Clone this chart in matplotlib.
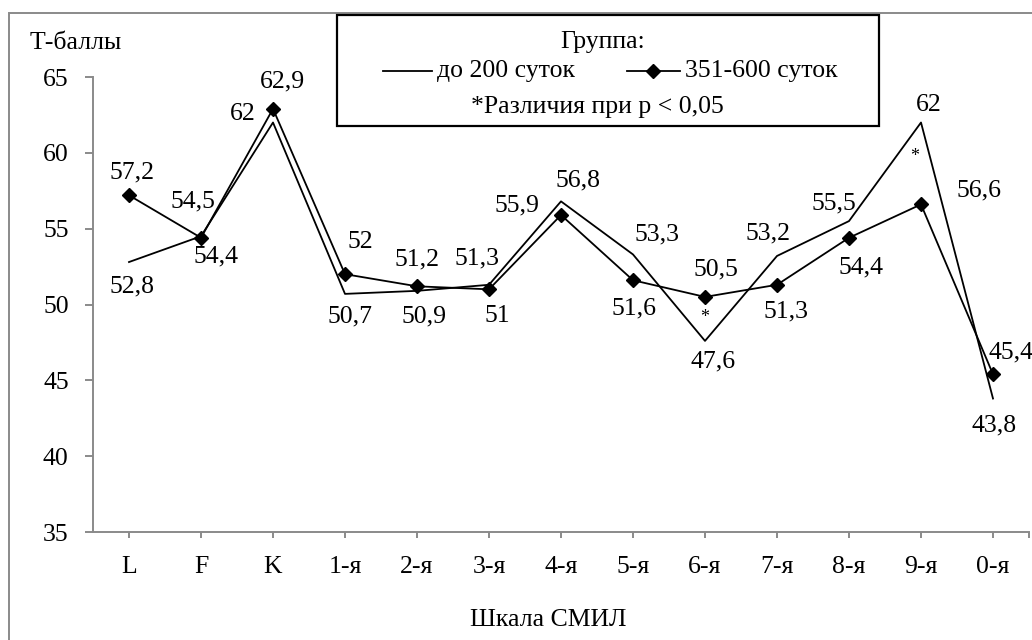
import numpy as np
import matplotlib
matplotlib.use("Agg")
import matplotlib.pyplot as plt
from matplotlib.lines import Line2D
from matplotlib.patches import Rectangle

plt.rcParams['font.family'] = ['Liberation Serif', 'DejaVu Serif']

# SMIL scales and mean T-scores of the two groups
scales = ['L', 'F', 'K', '1-я', '2-я', '3-я', '4-я', '5-я', '6-я', '7-я', '8-я', '9-я', '0-я']
grp_short = [52.8, 54.5, 62, 50.7, 50.9, 51.3, 56.8, 53.3, 47.6, 53.2, 55.5, 62, 43.8]
grp_long = [57.2, 54.4, 62.9, 52, 51.2, 51, 55.9, 51.6, 50.5, 51.3, 54.4, 56.6, 45.4]
name_short = 'до 200 суток'
name_long = '351-600 суток'
signif = ['6-я', '9-я']  # p < 0.05

# label offsets in pixels (dx, dy), dy measured downwards
off_short = [(3, 24), (-8, -35), (-30, -9), (5, 23), (7, 26), (-12, -26), (17, -21),
             (24, -20), (8, 21), (-9, -23), (-15, -18), (8, -18), (1, 27)]
off_long = [(3, -23), (15, 19), (9, -27), (15, -32), (0, -27), (8, 27), (-44, -10),
            (1, 28), (11, -27), (9, 27), (12, 30), (58, -14), (18, -22)]

W, H = 1032, 640
FS = 18.5
GREY = '#8a8a8a'


def fx(x):
    return x / W


def fy(y):
    return 1 - y / H


def fmt(v):
    return ('%g' % v).replace('.', ',')


fig = plt.figure(figsize=(W / 100, H / 100), dpi=100)
ax = fig.add_axes([fx(93), fy(532), fx(1029) - fx(93), fy(77) - fy(532)])
ax.patch.set_alpha(0)

x = np.arange(len(scales))
ax.plot(x, grp_short, color='black', lw=1.3)
ax.plot(x, grp_long, color='black', lw=1.3, marker='D', ms=7.5)

for i in range(len(scales)):
    dx, dy = off_short[i]
    ax.annotate(fmt(grp_short[i]), (x[i], grp_short[i]), xytext=(dx, -dy),
                textcoords='offset pixels', ha='center', va='center', fontsize=FS,
                annotation_clip=False)
    dx, dy = off_long[i]
    ax.annotate(fmt(grp_long[i]), (x[i], grp_long[i]), xytext=(dx, -dy),
                textcoords='offset pixels', ha='center', va='center', fontsize=FS,
                annotation_clip=False)

# asterisks between the two curves where the difference is significant
for s, (dx, dy) in zip(signif, [(0, -23), (-6, 34)]):
    i = scales.index(s)
    ax.annotate('*', (x[i], grp_short[i]), xytext=(dx, -dy), textcoords='offset pixels',
                ha='center', va='center', fontsize=13)

ax.set_xlim(-0.5, 12.5)
ax.set_ylim(35, 65)
ax.set_yticks(range(35, 66, 5))
ax.set_xticks(x, scales)
ax.set_xticks([12.5], minor=True)
for side in ['top', 'right']:
    ax.spines[side].set_visible(False)
for side in ['left', 'bottom']:
    ax.spines[side].set_color(GREY)
    ax.spines[side].set_linewidth(1.4)
ax.tick_params(axis='both', which='both', direction='out', width=1.4,
               color=GREY, labelsize=FS)
ax.tick_params(axis='y', length=5.5, pad=12)
ax.tick_params(axis='x', which='both', length=4, pad=13)

# chart frame
fig.add_artist(Rectangle((fx(9), -0.2), 1.5, fy(13) + 0.2, transform=fig.transFigure,
                         fill=False, edgecolor=GREY, lw=1.4, clip_on=False))

fig.text(fx(30), fy(43), 'Т-баллы', ha='left', va='center', fontsize=FS)
fig.text(fx(548), fy(620), 'Шкала СМИЛ', ha='center', va='center', fontsize=FS)

# legend box
fig.add_artist(Rectangle((fx(337), fy(126)), fx(879) - fx(337), fy(15) - fy(126),
                         transform=fig.transFigure, fill=False, edgecolor='black', lw=1.6))
fig.text(fx(603), fy(42), 'Группа:', ha='center', va='center', fontsize=FS)
fig.add_artist(Line2D([fx(383), fx(432)], [fy(71)] * 2, color='black', lw=1.3,
                      transform=fig.transFigure))
fig.text(fx(437), fy(71), name_short, ha='left', va='center', fontsize=FS)
fig.add_artist(Line2D([fx(627), fx(653), fx(680)], [fy(71)] * 3, color='black', lw=1.3,
                      marker='D', ms=7.5, markevery=[1], transform=fig.transFigure))
fig.text(fx(685), fy(71), name_long, ha='left', va='center', fontsize=FS)
fig.text(fx(597), fy(107), '*Различия при p < 0,05', ha='center', va='center', fontsize=FS)

fig.savefig('out.png', dpi=100, facecolor='white')
